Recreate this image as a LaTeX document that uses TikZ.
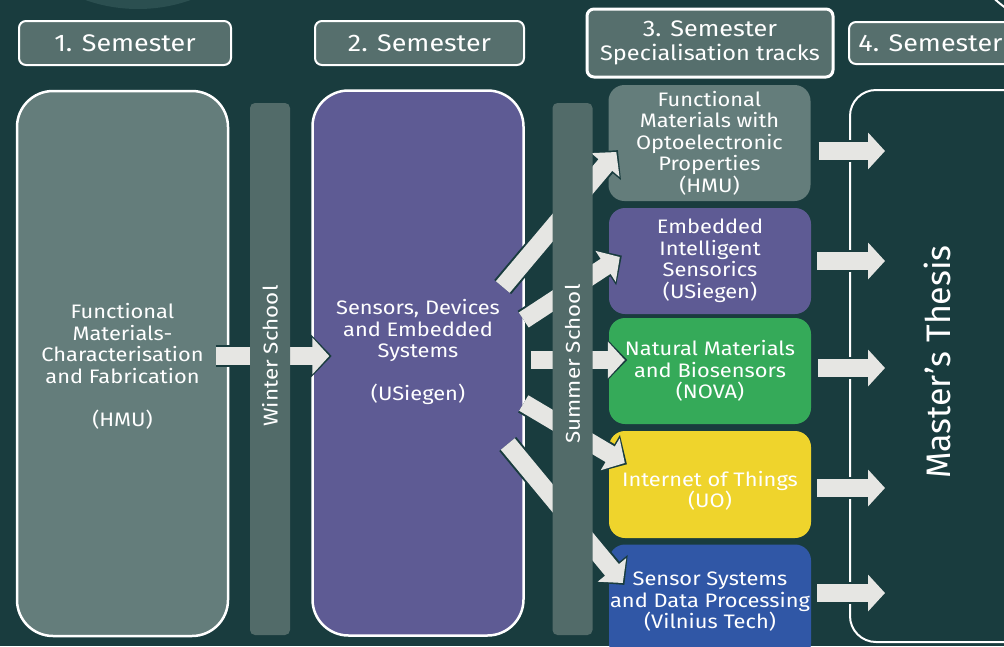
\documentclass[tikz,border=0pt]{standalone}
\usepackage{fontspec}
\setmainfont[FakeStretch=1.12]{Fira Sans}
\newfontfamily\plainfont{Fira Sans}
\usetikzlibrary{arrows.meta}

\definecolor{bgteal}{HTML}{193C3E}
\definecolor{headfill}{HTML}{566F6D}
\definecolor{greyfill}{HTML}{647D7B}
\definecolor{barfill}{HTML}{526B69}
\definecolor{purplefill}{HTML}{5E5B94}
\definecolor{greenfill}{HTML}{35AA59}
\definecolor{yellowfill}{HTML}{EFD42C}
\definecolor{bluefill}{HTML}{3057A6}
\definecolor{arrowfill}{HTML}{E6E6E3}
\definecolor{circlefill}{HTML}{2B4F50}

\tikzset{
  semhead/.style={draw=white, line width=2pt, fill=headfill, rounded corners=7pt,
    inner sep=0pt, text=white, font=\fontsize{24}{25}\selectfont},
  bigbox/.style={draw=white, line width=2.5pt, rounded corners=36pt, inner sep=0pt,
    minimum width=211pt, minimum height=545pt},
  boxtext/.style={text=white, align=center, font=\fontsize{19.5}{21.5}\selectfont},
  schoolbar/.style={fill=barfill, rounded corners=5pt, inner sep=0pt,
    minimum width=40pt, minimum height=532pt},
  schooltext/.style={text=white, rotate=90, font=\fontsize{20}{21}\selectfont},
  track/.style={rounded corners=16pt, inner sep=0pt, minimum width=202pt,
    text=white, align=center, font=\fontsize{19.5}{21.5}\selectfont},
  flow/.style={draw=arrowfill, line width=18pt, -{Triangle[width=36pt,length=17pt]},
    preaction={draw=bgteal, line width=22pt, shorten >=-2.5pt,
      -{Triangle[width=42pt,length=21pt]}}}
}

\begin{document}
\begin{tikzpicture}[x=1pt,y=-1pt]
\useasboundingbox (0,0) rectangle (1004,646);
\clip (0,0) rectangle (1004,646);
\fill[bgteal] (0,0) rectangle (1004,646);
\fill[circlefill] (138,-149) circle (158);
\draw[white, line width=2pt] (1060,-70) circle (95);

% semester headers
\node[semhead, minimum width=212pt, minimum height=44pt] (h1) at (125,43) {1. Semester};
\node[semhead, minimum width=209pt, minimum height=44pt] (h2) at (419.5,43) {2. Semester};
\node[semhead, line width=3pt, minimum width=246pt, minimum height=68pt, align=center,
  font=\fontsize{21}{24}\selectfont] (h3) at (710,43)
  {{\fontsize{22.5}{24}\selectfont 3. Semester}\\Specialisation tracks};
\node[semhead, minimum width=163pt, minimum height=42pt] (h4) at (930.5,43) {4. Semester};

% first and second semester
\node[bigbox, fill=greyfill] (s1) at (122.5,363.5) {};
\node[boxtext] (s1text) at ([yshift=-3pt]s1.center)
  {Functional\\Materials-\\Characterisation\\and Fabrication\\[21.5pt](HMU)};
\node[bigbox, fill=purplefill] (s2) at (418,363) {};
\node[boxtext] (s2text) at ([yshift=11pt]s2.center)
  {Sensors, Devices\\and Embedded\\Systems\\[21.5pt](USiegen)};

% specialisation tracks
\node[track, fill=greyfill, minimum height=116pt] (t1) at (709.5,143)
  {Functional\\Materials with\\Optoelectronic\\Properties\\(HMU)};
\node[track, fill=purplefill, minimum height=106pt] (t2) at (710,261)
  {Embedded\\Intelligent\\Sensorics\\(USiegen)};
\node[track, fill=greenfill, minimum height=106pt] (t3) at (710,371)
  {Natural Materials\\and Biosensors\\(NOVA)};
\node[track, fill=yellowfill, minimum height=107pt] (t4) at (710,484.5) {};
\node[boxtext] (t4text) at ([yshift=-6.5pt]t4.center) {Internet of Things\\(UO)};
\node[track, fill=bluefill, minimum height=115pt] (t5) at (710,602)
  {Sensor Systems\\and Data Processing\\(Vilnius Tech)};

% fourth semester
\node[draw=white, line width=2pt, rounded corners=26pt, minimum width=180pt,
  minimum height=552pt] (thesis) at (940,366) {};
\node[text=white, rotate=90, font=\plainfont\fontsize{34}{36}\selectfont] (thesistext)
  at ([xshift=-3pt,yshift=4pt]thesis.center) {Master’s Thesis};

% arrows
\draw[flow] ([xshift=-13pt,yshift=7.5pt]s1.east) -- ([xshift=18pt,yshift=7pt]s2.west);
\draw[flow] ([xshift=-22pt,yshift=76pt]s2.east) -- ([xshift=8pt,yshift=-9pt]t1.west);
\draw[flow] ([xshift=-1pt,yshift=43pt]s2.east) -- ([xshift=11pt,yshift=4pt]t2.west);
\draw[flow] ([xshift=6pt,yshift=3pt]s2.east) -- ([xshift=16pt,yshift=11pt]t3.west);
\draw[flow] ([xshift=-1pt,yshift=-40pt]s2.east) -- ([xshift=16pt,yshift=21.5pt]t4.west);
\draw[flow] ([xshift=-17pt,yshift=-81pt]s2.east) -- ([xshift=14pt,yshift=19pt]t5.west);
\draw[flow] ([xshift=8pt,yshift=-8pt]t1.east) -- ([xshift=36pt,yshift=-8pt]t1.east -| thesis.west);
\draw[flow] ([xshift=6pt]t2.east) -- ([xshift=36pt]t2.east -| thesis.west);
\draw[flow] ([xshift=7pt,yshift=3pt]t3.east) -- ([xshift=36pt,yshift=3pt]t3.east -| thesis.west);
\draw[flow] ([xshift=6pt,yshift=-3.5pt]t4.east) -- ([xshift=36pt,yshift=-3.5pt]t4.east -| thesis.west);
\draw[flow] ([xshift=6pt,yshift=9pt]t5.east) -- ([xshift=36pt,yshift=9pt]t5.east -| thesis.west);

% schools
\node[schoolbar] (winter) at (270,369) {};
\node[schooltext] (wintertext) at ([yshift=13pt]winter.center) {Winter School};
\node[schoolbar] (summer) at (572.5,369) {};
\node[schooltext] (summertext) at ([yshift=5pt]summer.center) {Summer School};
\end{tikzpicture}
\end{document}
